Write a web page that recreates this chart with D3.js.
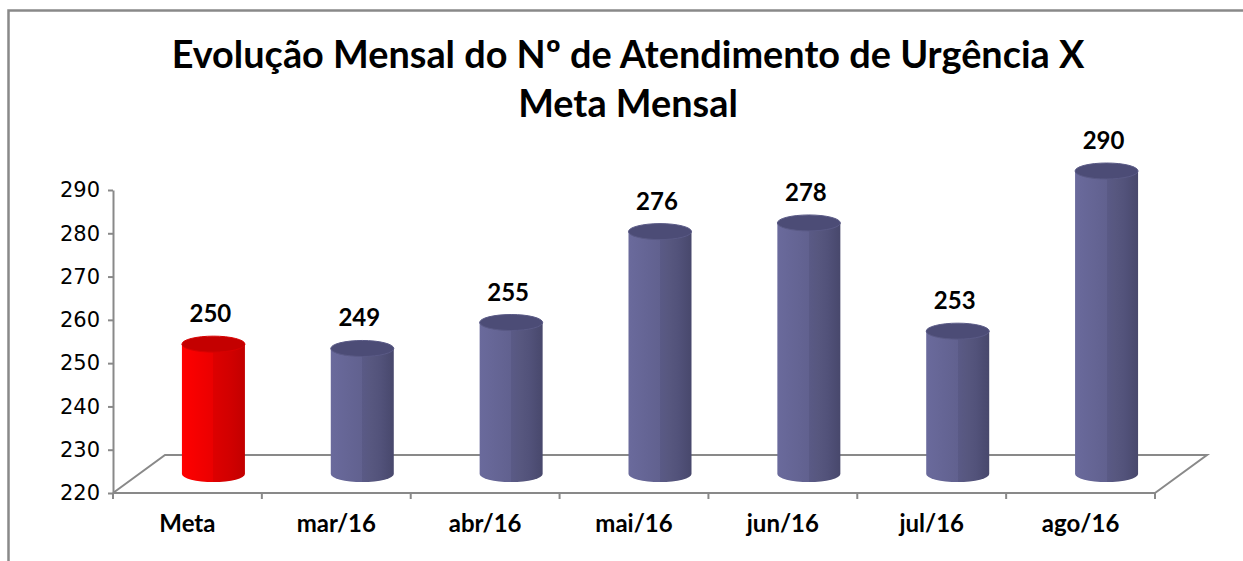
<!DOCTYPE html>
<html>
<head>
<meta charset="utf-8">
<script src="https://cdn.jsdelivr.net/npm/d3@7"></script>
<style>
  body { margin: 0; background: #fff; }
  svg { display: block; }
</style>
</head>
<body>
<svg id="chart" width="1243" height="561"></svg>
<script>
// chart data
const categories = ["Meta", "mar/16", "abr/16", "mai/16", "jun/16", "jul/16", "ago/16"];
const values = [250, 249, 255, 276, 278, 253, 290];
const yTicks = [220, 230, 240, 250, 260, 270, 280, 290];
const titleLines = ["Evolução Mensal do Nº de Atendimento de Urgência X", "Meta Mensal"];

const plot = { left: 113, right: 1155, top: 190, bottom: 493 };
const depth = { dx: 52, dy: -38 };
const barWidth = 63;
const ry = 8;
const gray = "#898989";

const svg = d3.select("#chart");

// frame (top + left edges only visible)
svg.append("path")
  .attr("d", "M8.5,561 L8.5,10.5 L1243,10.5")
  .attr("fill", "none")
  .attr("stroke", gray)
  .attr("stroke-width", 2.5);

// gradients, stepped a bit to look like cylinder facets
const defs = svg.append("defs");
const makeGrad = (id, stops) => {
  const g = defs.append("linearGradient").attr("id", id)
    .attr("x1", "0%").attr("x2", "100%").attr("y1", "0%").attr("y2", "0%");
  stops.forEach(s => g.append("stop").attr("offset", s[0]).attr("stop-color", s[1]));
};
makeGrad("gradBlue", [
  ["0%", "#6a6a9c"], ["50%", "#61618f"], ["50%", "#5a5a86"], ["65%", "#57577f"],
  ["79%", "#52527a"], ["85%", "#4f4f76"], ["91%", "#4c4c72"], ["100%", "#48486c"]
]);
makeGrad("gradRed", [
  ["0%", "#ff0000"], ["50%", "#ea0000"], ["50%", "#dd0000"], ["75%", "#d20000"], ["100%", "#c20000"]
]);

// scales
const x = d3.scaleBand().domain(categories).range([plot.left, plot.right]).padding(0);
const y = d3.scaleLinear().domain([220, 290]).range([plot.bottom, plot.top]);

// title
const title = svg.append("text")
  .attr("text-anchor", "middle")
  .style("font-family", "Lato, 'Open Sans', sans-serif")
  .style("font-weight", "bold")
  .style("font-size", "32px")
  .attr("fill", "#000");
title.append("tspan").attr("x", 628).attr("y", 68).text(titleLines[0]);
title.append("tspan").attr("x", 628).attr("y", 117).text(titleLines[1]);
// fit first line to the reference width
const w0 = title.select("tspan").node().getComputedTextLength();
title.style("font-size", (32 * 913 / w0) + "px");

// floor
const x0 = plot.left, x1 = plot.right, yb = y(220);
svg.append("path")
  .attr("d", `M${x0},${yb} L${x0 + depth.dx},${yb + depth.dy} L${x1 + depth.dx},${yb + depth.dy} L${x1},${yb}`)
  .attr("fill", "none")
  .attr("stroke", gray)
  .attr("stroke-width", 2);

// y axis
const yAxis = svg.append("g")
  .attr("transform", `translate(${plot.left},0)`)
  .call(d3.axisLeft(y).tickValues(yTicks).tickSize(5).tickSizeOuter(0).tickPadding(8));
yAxis.select(".domain").attr("stroke", gray).attr("stroke-width", 2);
yAxis.selectAll(".tick line").attr("stroke", gray).attr("stroke-width", 2);
yAxis.selectAll("text")
  .style("font-family", "'DejaVu Sans', sans-serif")
  .style("font-size", "21px")
  .attr("fill", "#000");

// x axis line + boundary ticks
svg.append("line")
  .attr("x1", x0).attr("x2", x1).attr("y1", yb).attr("y2", yb)
  .attr("stroke", gray).attr("stroke-width", 2);
svg.selectAll(".xtick")
  .data(categories.map(c => x(c)).concat([x1]))
  .enter().append("line")
  .attr("class", "xtick")
  .attr("x1", d => d).attr("x2", d => d)
  .attr("y1", yb).attr("y2", yb + 6)
  .attr("stroke", gray).attr("stroke-width", 2);

const xAxis = svg.append("g")
  .attr("transform", `translate(0,${yb})`)
  .call(d3.axisBottom(x).tickSize(0).tickPadding(22));
xAxis.select(".domain").remove();
xAxis.selectAll("text")
  .style("font-family", "Lato, sans-serif")
  .style("font-weight", "bold")
  .style("font-size", "24px")
  .attr("fill", "#000");

// cylinders
const data = categories.map((c, i) => ({ cat: c, value: values[i] }));
const cx = d => x(d.cat) + x.bandwidth() / 2 + depth.dx / 2;
const baseY = y(220) + depth.dy / 2;
const topY = d => y(d.value) + depth.dy / 2;
const rx = barWidth / 2;

const bars = svg.selectAll(".bar")
  .data(data)
  .enter().append("g")
  .attr("class", "bar");

bars.append("path")
  .attr("d", d => {
    const l = cx(d) - rx, r = cx(d) + rx;
    return `M${l},${topY(d)} L${l},${baseY} A${rx},${ry} 0 0 0 ${r},${baseY} L${r},${topY(d)} Z`;
  })
  .attr("fill", d => d.cat === "Meta" ? "url(#gradRed)" : "url(#gradBlue)");

bars.append("ellipse")
  .attr("cx", cx)
  .attr("cy", topY)
  .attr("rx", rx)
  .attr("ry", ry)
  .attr("fill", d => d.cat === "Meta" ? "#c40000" : "#4c4c76")
  .attr("stroke", d => d.cat === "Meta" ? "#d80000" : "#5a5a86")
  .attr("stroke-width", 1);

// value labels
bars.append("text")
  .attr("x", d => cx(d) - 3)
  .attr("y", d => topY(d) - 22)
  .attr("text-anchor", "middle")
  .style("font-family", "Lato, sans-serif")
  .style("font-weight", "bold")
  .style("font-size", "24px")
  .attr("fill", "#000")
  .text(d => d.value);
</script>
</body>
</html>
